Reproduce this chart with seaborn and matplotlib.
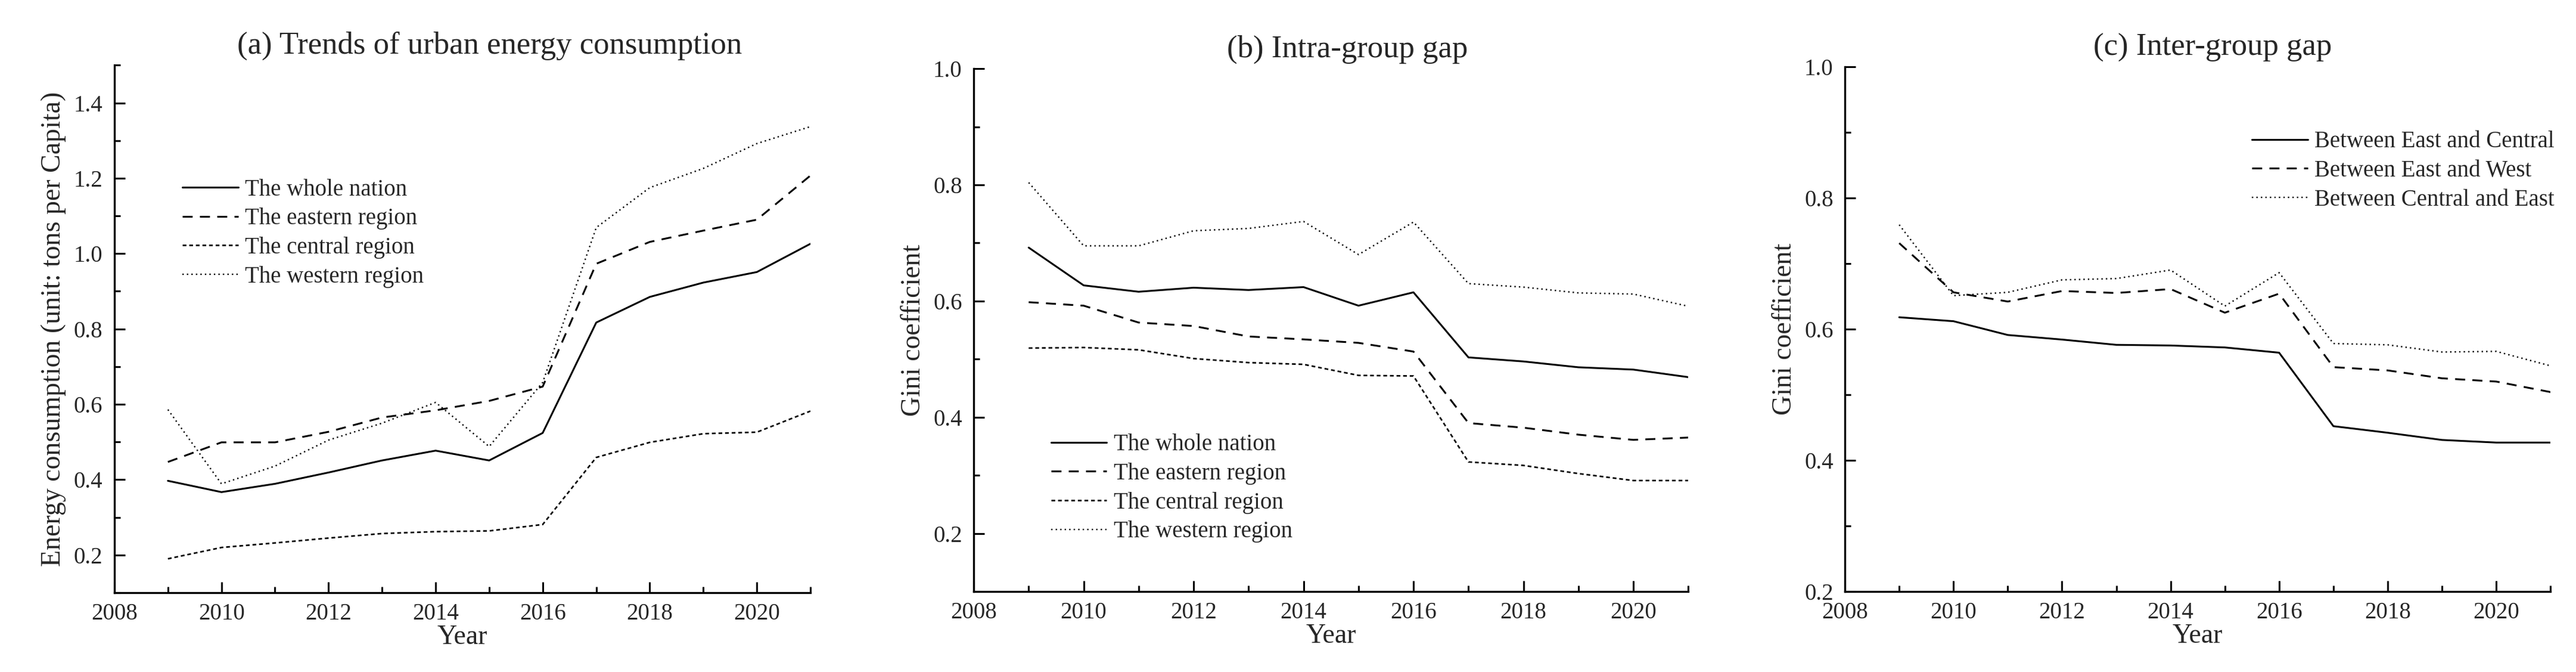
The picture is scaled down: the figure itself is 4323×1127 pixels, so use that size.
import seaborn as sns
import matplotlib.pyplot as plt
from matplotlib.ticker import MultipleLocator
import numpy as np
import pandas as pd

years = list(range(2009, 2022))

# (a) energy consumption, tons per capita
nation_energy = [0.397, 0.367, 0.389, 0.419, 0.451, 0.477, 0.451, 0.524, 0.817, 0.885, 0.923, 0.951, 1.026]
east_energy = [0.447, 0.499, 0.499, 0.527, 0.565, 0.584, 0.609, 0.647, 0.973, 1.031, 1.061, 1.090, 1.207]
central_energy = [0.190, 0.220, 0.232, 0.245, 0.257, 0.262, 0.264, 0.281, 0.459, 0.499, 0.522, 0.526, 0.582]
west_energy = [0.586, 0.389, 0.436, 0.505, 0.550, 0.605, 0.488, 0.658, 1.069, 1.175, 1.226, 1.292, 1.337]

# (b) intra-group Gini
nation_gini = [0.692, 0.627, 0.616, 0.623, 0.619, 0.624, 0.592, 0.615, 0.503, 0.496, 0.486, 0.482, 0.469]
east_gini = [0.598, 0.592, 0.563, 0.557, 0.539, 0.534, 0.528, 0.513, 0.390, 0.382, 0.370, 0.361, 0.365]
central_gini = [0.519, 0.520, 0.516, 0.501, 0.494, 0.491, 0.472, 0.471, 0.323, 0.317, 0.303, 0.291, 0.291]
west_gini = [0.804, 0.695, 0.695, 0.721, 0.725, 0.737, 0.680, 0.736, 0.630, 0.624, 0.614, 0.612, 0.591]

# (c) inter-group Gini
east_central = [0.618, 0.612, 0.591, 0.584, 0.576, 0.575, 0.572, 0.564, 0.452, 0.442, 0.431, 0.427, 0.427]
east_west = [0.731, 0.656, 0.642, 0.658, 0.655, 0.661, 0.625, 0.654, 0.542, 0.537, 0.525, 0.520, 0.504]
central_east = [0.759, 0.651, 0.656, 0.675, 0.677, 0.690, 0.635, 0.686, 0.578, 0.576, 0.565, 0.566, 0.544]

region_labels = ["The whole nation", "The eastern region", "The central region", "The western region"]
gap_labels = ["Between East and Central", "Between East and West", "Between Central and East"]

sns.set_theme(style="ticks")
plt.rcParams['font.family'] = ['Liberation Serif', 'DejaVu Serif']

styles = [
    dict(linestyle='-', lw=2.2),
    dict(linestyle=(0, (5.5, 4)), lw=2.2),
    dict(linestyle=(0, (2.4, 1.8)), lw=1.9),
    dict(linestyle=(0, (1, 2.2)), lw=1.7),
]
gap_styles = [styles[0], styles[1], styles[3]]

fig = plt.figure(figsize=(43.23, 11.27), dpi=100)
ax_a = fig.add_axes([0.0444, 0.118, 0.2702, 0.785])
ax_b = fig.add_axes([0.378, 0.1198, 0.2774, 0.778])
ax_c = fig.add_axes([0.7162, 0.1198, 0.2739, 0.781])


def draw(ax, series, labels, stl):
    for vals, lab, st in zip(series, labels, stl):
        df = pd.DataFrame({"Year": years, "value": vals})
        sns.lineplot(data=df, x="Year", y="value", ax=ax, color='black',
                     linestyle=st['linestyle'], linewidth=st['lw'], label=lab)


def style_axes(ax, title, ylabel, ylim, tx):
    ax.set_xlim(2008, 2021)
    ax.set_ylim(*ylim)
    ax.xaxis.set_major_locator(MultipleLocator(2))
    ax.xaxis.set_minor_locator(MultipleLocator(1))
    ax.yaxis.set_major_locator(MultipleLocator(0.2))
    ax.yaxis.set_minor_locator(MultipleLocator(0.1))
    ax.yaxis.set_major_formatter(plt.FuncFormatter(lambda v, p: f"{v:.1f}"))
    ax.tick_params(which='major', direction='in', length=13, width=2.2, labelsize=28, color='black')
    ax.tick_params(which='minor', direction='in', length=7, width=2.2, color='black')
    ax.tick_params(axis='x', pad=12)
    ax.tick_params(axis='y', pad=14)
    for s in ['top', 'right']:
        ax.spines[s].set_visible(False)
    for s in ['left', 'bottom']:
        ax.spines[s].set_linewidth(2.4)
        ax.spines[s].set_color('black')
    ax.set_xlabel("Year", fontsize=33, labelpad=0)
    ax.set_ylabel(ylabel, fontsize=33, labelpad=9)
    ax.set_title(title, fontsize=38, x=tx, pad=14)


draw(ax_a, [nation_energy, east_energy, central_energy, west_energy], region_labels, styles)
style_axes(ax_a, "(a) Trends of urban energy consumption",
           "Energy consumption (unit: tons per Capita)", (0.1, 1.5), 0.539)

draw(ax_b, [nation_gini, east_gini, central_gini, west_gini], region_labels, styles)
style_axes(ax_b, "(b) Intra-group gap", "Gini coefficient", (0.1, 1.0), 0.523)

draw(ax_c, [east_central, east_west, central_east], gap_labels, gap_styles)
style_axes(ax_c, "(c) Inter-group gap", "Gini coefficient", (0.2, 1.0), 0.521)

leg_kw = dict(frameon=False, fontsize=28, handlelength=2.4, handletextpad=0.3,
              labelspacing=0.3, borderpad=0, borderaxespad=0, loc='upper left')
ax_a.legend(bbox_to_anchor=(0.098, 0.785), **leg_kw)
ax_b.legend(bbox_to_anchor=(0.108, 0.302), **leg_kw)
ax_c.legend(bbox_to_anchor=(0.577, 0.878), **leg_kw)

fig.savefig("out.png", dpi=100, facecolor='white')
